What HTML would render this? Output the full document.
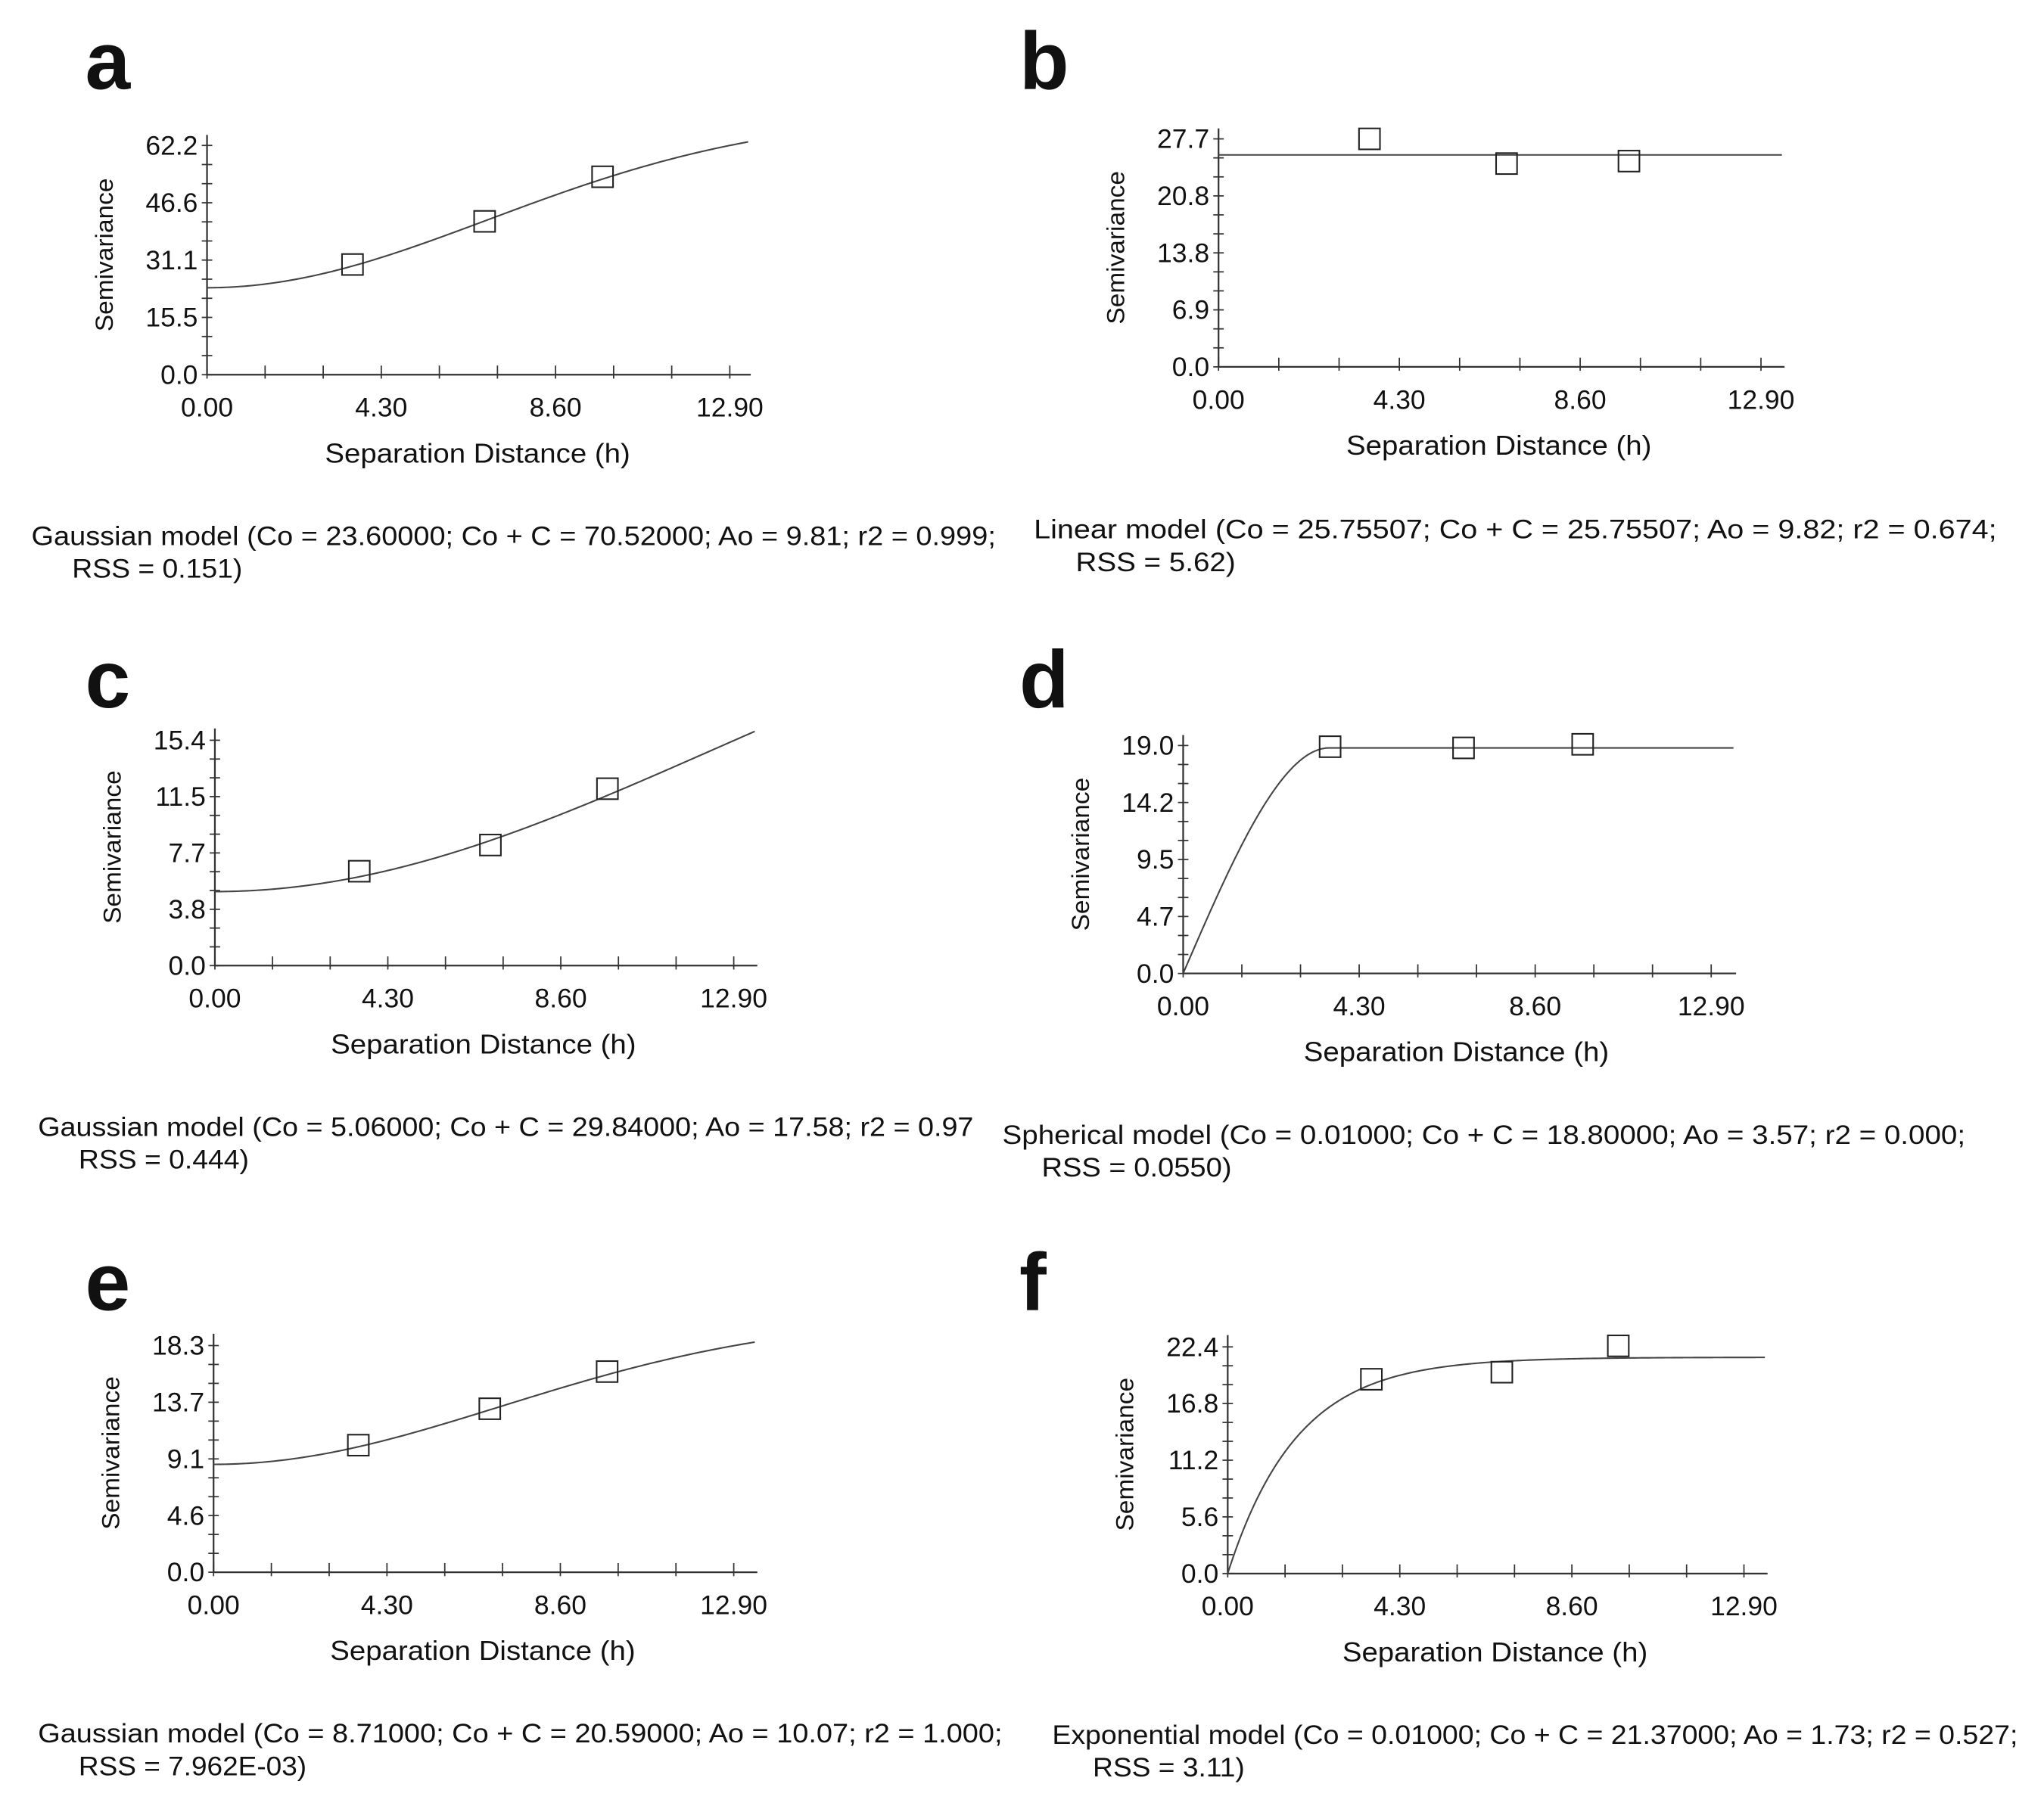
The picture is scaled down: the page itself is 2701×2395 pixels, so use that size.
<!DOCTYPE html>
<html><head><meta charset="utf-8"><style>
html,body{margin:0;padding:0;background:#fff}
svg{display:block}
text{font-family:"Liberation Sans",Arial,sans-serif;fill:#111}
</style></head><body>
<svg id="fig" width="2701" height="2395" viewBox="0 0 1560 1383" preserveAspectRatio="none" xmlns="http://www.w3.org/2000/svg"></svg>
<script>
// ---- data ----
const panelLetters = ["a","b","c","d","e","f"];
const modelTypes = ["gaussian","linear","gaussian","spherical","gaussian","exponential"];
const nuggets = [23.6, 25.75507, 5.06, 0.01, 8.71, 0.01];
const sills = [70.52, 25.75507, 29.84, 18.8, 20.59, 21.37];
const ranges = [9.81, 9.82, 17.58, 3.57, 10.07, 1.73];
const lagX = [3.59, 6.85, 9.76];
const semivarA = [29.9, 41.6, 53.7];
const semivarB = [27.7, 24.7, 25.0];
const semivarC = [6.45, 8.24, 12.09];
const semivarD = [18.9, 18.8, 19.1];
const semivarE = [10.26, 13.2, 16.2];
const semivarF = [19.2, 19.9, 22.5];
const yMaxes = [62.2, 27.7, 15.4, 19.0, 18.3, 22.4];
const xTickLabels = ["0.00","4.30","8.60","12.90"];
const yTickA = ["0.0","15.5","31.1","46.6","62.2"];
const yTickB = ["0.0","6.9","13.8","20.8","27.7"];
const yTickC = ["0.0","3.8","7.7","11.5","15.4"];
const yTickD = ["0.0","4.7","9.5","14.2","19.0"];
const yTickE = ["0.0","4.6","9.1","13.7","18.3"];
const yTickF = ["0.0","5.6","11.2","16.8","22.4"];
const captions1 = [
 "Gaussian model (Co = 23.60000; Co + C = 70.52000; Ao = 9.81; r2 = 0.999;",
 "Linear model (Co = 25.75507; Co + C = 25.75507; Ao = 9.82; r2 = 0.674;",
 "Gaussian model (Co = 5.06000; Co + C = 29.84000; Ao = 17.58; r2 = 0.97",
 "Spherical model (Co = 0.01000; Co + C = 18.80000; Ao = 3.57; r2 = 0.000;",
 "Gaussian model (Co = 8.71000; Co + C = 20.59000; Ao = 10.07; r2 = 1.000;",
 "Exponential model (Co = 0.01000; Co + C = 21.37000; Ao = 1.73; r2 = 0.527;"];
const captions2 = ["RSS = 0.151)","RSS = 5.62)","RSS = 0.444)","RSS = 0.0550)","RSS = 7.962E-03)","RSS = 3.11)"];
const allSemivar = [semivarA,semivarB,semivarC,semivarD,semivarE,semivarF];
const allYTicks = [yTickA,yTickB,yTickC,yTickD,yTickE,yTickF];

// ---- layout (preview px) ----
const L = [
 {ax:158,y0:286,yTop:111,top:103,x129:557,xEnd:573,let:[65,68],cap:[24,416,55,441],w1:736,w2:130},
 {ax:930,y0:280,yTop:106,top:98,x129:1344,xEnd:1362,let:[778,68],cap:[789,411,821,436],w1:735,w2:122},
 {ax:164,y0:737,yTop:565,top:556,x129:560,xEnd:578,let:[65,540],cap:[29,867,60,892],w1:714,w2:130},
 {ax:903,y0:743,yTop:569,top:561,x129:1306,xEnd:1325,let:[778,540],cap:[765,873,795,898],w1:735,w2:145},
 {ax:163,y0:1200,yTop:1027,top:1018,x129:560,xEnd:578,let:[65,1000],cap:[29,1330,60,1355],w1:736,w2:174},
 {ax:937,y0:1201,yTop:1028,top:1019,x129:1331,xEnd:1349,let:[778,1000],cap:[803,1331,834,1356],w1:737,w2:116}
];
const NS="http://www.w3.org/2000/svg";
const svg=document.getElementById('fig');
function mk(tag,attrs,parent,txt){const e=document.createElementNS(NS,tag);for(const k in attrs)e.setAttribute(k,attrs[k]);if(txt!==undefined)e.textContent=txt;(parent||svg).appendChild(e);return e;}
function model(i,h){
 const c0=nuggets[i],c=sills[i]-nuggets[i],a=ranges[i];
 if(modelTypes[i]==="gaussian")return c0+c*(1-Math.exp(-h*h/(a*a)));
 if(modelTypes[i]==="exponential")return c0+c*(1-Math.exp(-h/a));
 if(modelTypes[i]==="spherical")return h>=a?c0+c:c0+c*(1.5*h/a-0.5*Math.pow(h/a,3));
 return c0;
}
for(let i=0;i<6;i++){
 const p=L[i];
 const g=mk('g',{},svg);
 
 
 const sx=v=>p.ax+v*(p.x129-p.ax)/12.9;
 const sy=v=>p.y0-v*(p.y0-p.yTop)/yMaxes[i];
 const lt=mk('text',{x:p.let[0],y:p.let[1],'font-size':62,'font-weight':'bold'},g,panelLetters[i]);
 
 
 const ya=mk('line',{x1:p.ax,y1:p.top,x2:p.ax,y2:p.y0,stroke:'#333','stroke-width':1.3},g);
 
 
 const xa=mk('line',{x1:p.ax,y1:p.y0,x2:p.xEnd,y2:p.y0,stroke:'#333','stroke-width':1.3},g);
 
 
 for(let k=0;k<=12;k++){const y=sy(yMaxes[i]*k/12);mk('line',{x1:p.ax-4,y1:y,x2:p.ax+4,y2:y,stroke:'#333','stroke-width':1},g);}
 for(let k=0;k<=9;k++){const x=sx(12.9*k/9);mk('line',{x1:x,y1:p.y0-7,x2:x,y2:p.y0+3,stroke:'#333','stroke-width':1},g);}
 allYTicks[i].forEach((t,k)=>{const e=mk('text',{x:p.ax-7,y:sy(yMaxes[i]*k/4)+7,'font-size':20.5,'text-anchor':'end'},g,t);
  
  });
 xTickLabels.forEach((t,k)=>{const e=mk('text',{x:sx(4.3*k),y:p.y0+32,'font-size':20.5,'text-anchor':'middle'},g,t);
  
  });
 const xt=mk('text',{x:(p.ax+p.x129)/2+7,y:p.y0+67,'font-size':21,'text-anchor':'middle','textLength':233,'lengthAdjust':'spacingAndGlyphs'},g,'Separation Distance (h)');
 
 
 const ymid=(p.top+p.y0)/2;
 const yt=mk('text',{x:0,y:0,'font-size':18.5,'text-anchor':'middle','textLength':117,'lengthAdjust':'spacingAndGlyphs','transform':`translate(${p.ax-72},${ymid}) rotate(-90)`},g,'Semivariance');
 
 
 let d='';const hMax=(p.xEnd-2-p.ax)/(p.x129-p.ax)*12.9;
 for(let s=0;s<=200;s++){const h=hMax*s/200;d+=(s?'L':'M')+sx(h).toFixed(2)+' '+sy(model(i,h)).toFixed(2);}
 const cv=mk('path',{d:d,fill:'none',stroke:'#444','stroke-width':1.2},g);
 
 
 allSemivar[i].forEach((v,k)=>{const r=mk('rect',{x:sx(lagX[k])-8,y:sy(v)-8,width:16,height:16,fill:'none',stroke:'#222','stroke-width':1.2},g);
  
  });
 const c1=mk('text',{x:p.cap[0],y:p.cap[1],'font-size':20.5,'textLength':p.w1,'lengthAdjust':'spacingAndGlyphs'},g,captions1[i]);
 
 
 const c2=mk('text',{x:p.cap[2],y:p.cap[3],'font-size':20.5,'textLength':p.w2,'lengthAdjust':'spacingAndGlyphs'},g,captions2[i]);
 
 
}
</script>
</body></html>
